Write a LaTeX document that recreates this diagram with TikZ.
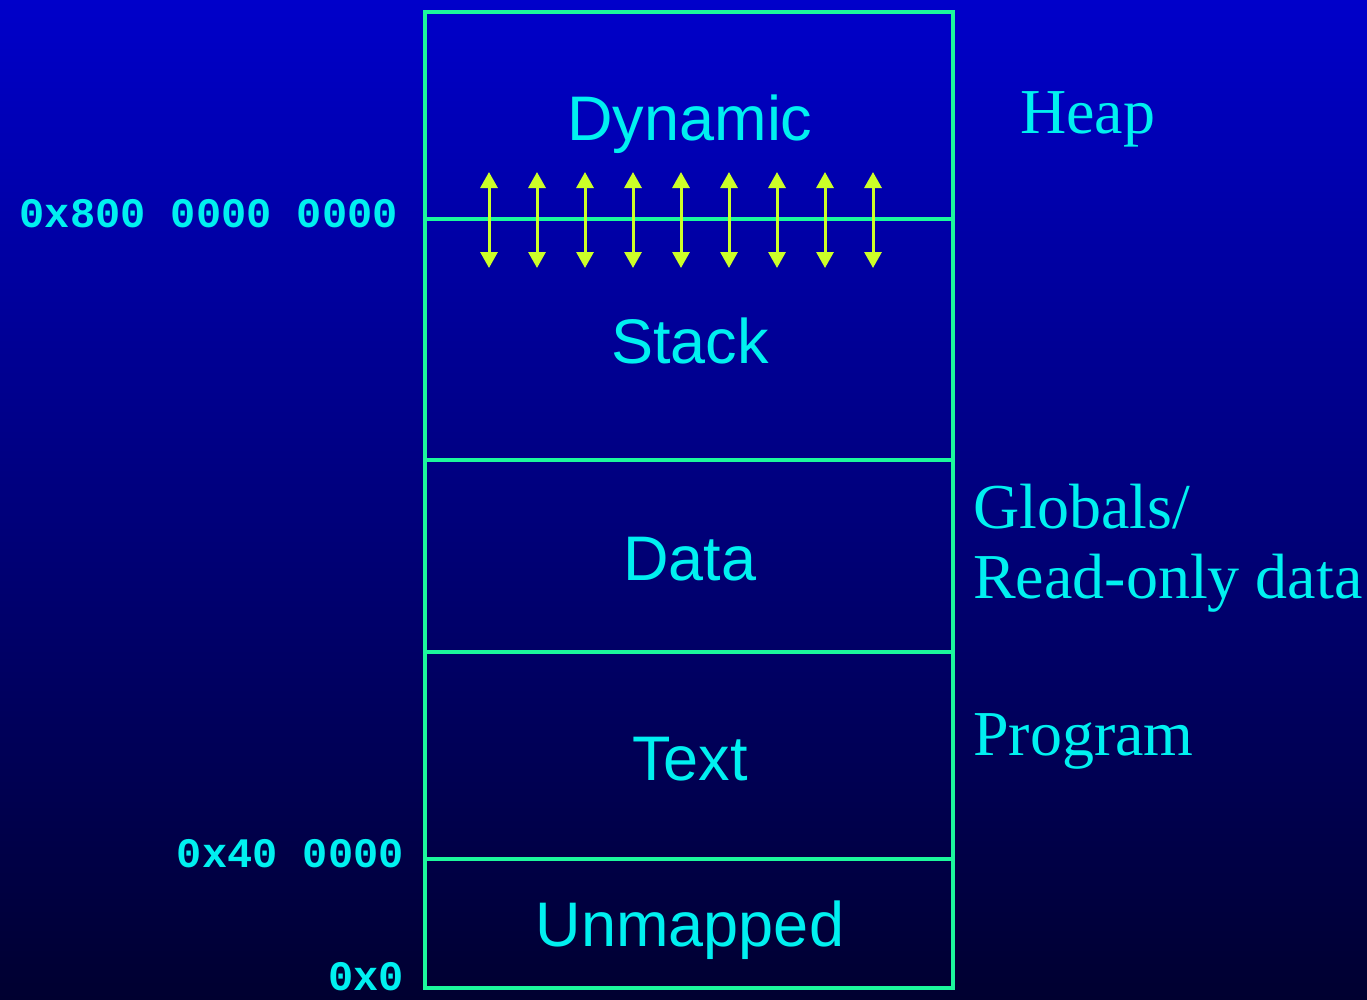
\documentclass[tikz,border=0pt]{standalone}
\usepackage{fontspec}
\setmainfont{Liberation Serif}
\newfontfamily\arialf{Liberation Sans}
\newfontfamily\courf{Liberation Mono}
\usetikzlibrary{arrows.meta}
\definecolor{bgtop}{RGB}{0,0,202}
\definecolor{bgbot}{RGB}{0,0,48}
\definecolor{boxc}{RGB}{28,248,156}
\definecolor{txtc}{RGB}{0,240,240}
\definecolor{arrc}{RGB}{204,255,40}
\tikzset{
  region/.style={draw=boxc, line width=4.5pt, anchor=north west, inner sep=0pt, outer sep=0pt, minimum width=528pt},
  seglabel/.style={text=txtc, font=\arialf\fontsize{63}{70}\selectfont, anchor=base, inner sep=0pt},
  sidelabel/.style={text=txtc, font=\fontsize{64}{68}\selectfont, anchor=base west, inner sep=0pt},
  addr/.style={text=txtc, font=\courf\bfseries\fontsize{42}{46}\selectfont, anchor=base east, inner sep=0pt, text depth=0pt},
  growarrow/.style={draw=arrc, line width=3pt, {Triangle[width=17pt,length=16pt]}-{Triangle[width=17pt,length=16pt]}}
}
\begin{document}
\begin{tikzpicture}[x=1pt,y=-1pt]
\useasboundingbox (0,0) rectangle (1367,999);
\shade[top color=bgtop, bottom color=bgbot] (0,0) rectangle (1367,999);
% regions
\node[region, minimum height=207pt] (dyn) at (425,12) {};
\node[region, minimum height=241pt] (stk) at (425,219) {};
\node[region, minimum height=192pt] (dat) at (425,460) {};
\node[region, minimum height=207pt] (txt) at (425,652) {};
\node[region, minimum height=129pt] (unm) at (425,859) {};
% segment labels
\node[seglabel] (ldyn) at (690,140) {Dynamic};
\node[seglabel] (lstk) at (690,363) {Stack};
\node[seglabel] (ldat) at (690,580) {Data};
\node[seglabel] (ltxt) at (690,780) {Text};
\node[seglabel] (lunm) at (690,946) {Unmapped};
% growth arrows
\foreach \i in {0,...,8}{
  \coordinate (up\i) at (489+48*\i,172);
  \coordinate (dn\i) at (489+48*\i,268);
  \draw[growarrow] (up\i) -- (dn\i);
}
% side labels
\node[sidelabel] (heap) at (1020,133) {Heap};
\node[sidelabel] (glob) at (973,528) {Globals/};
\node[sidelabel] (rodata) at (973,598) {Read-only data};
\node[sidelabel] (prog) at (973,755) {Program};
% addresses
\node[addr] (a1) at (398,227) {0x800 0000 0000};
\node[addr] (a2) at (404,867) {0x40 0000};
\node[addr] (a3) at (404,990) {0x0};
\end{tikzpicture}
\end{document}
